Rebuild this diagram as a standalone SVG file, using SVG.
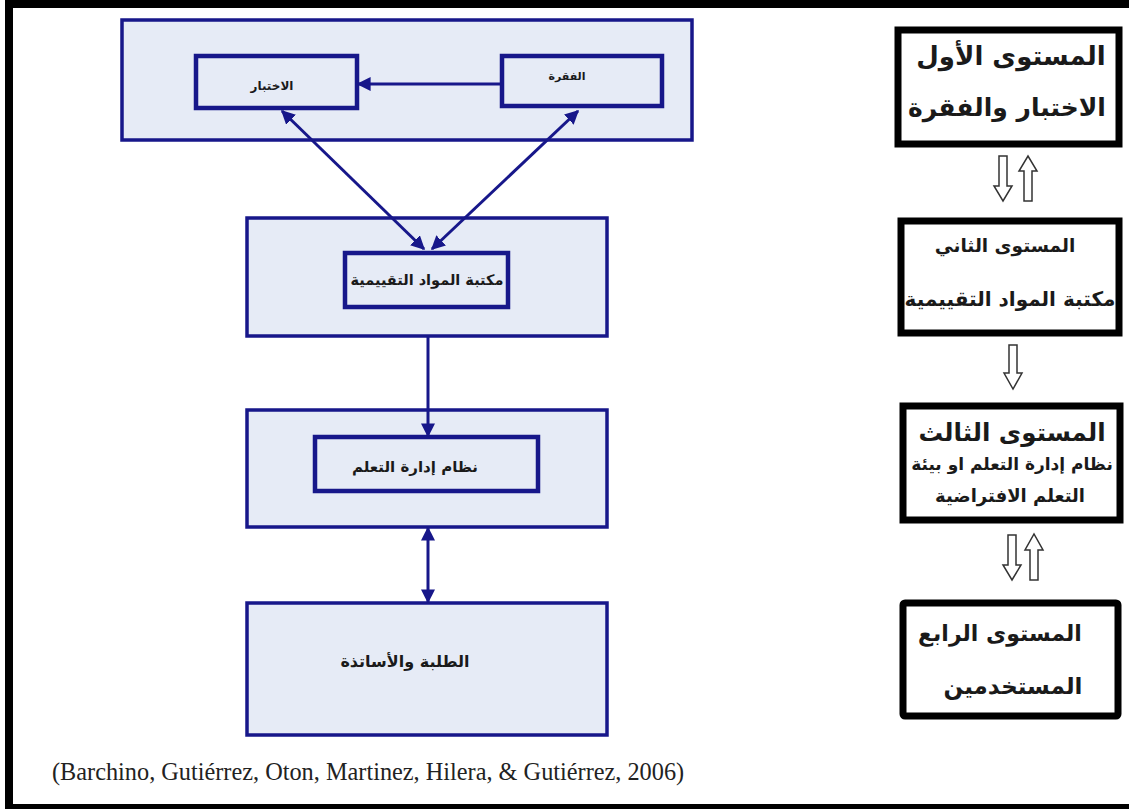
<svg xmlns="http://www.w3.org/2000/svg" width="1129" height="809" viewBox="0 0 1129 809">
<defs>
<style>
.outer{fill:#e6ebf6;stroke:#17178a;stroke-width:3.5}
.inner{fill:#e6ebf6;stroke:#17178a;stroke-width:4.5}
.lvl{fill:#fff;stroke:#000;stroke-width:7}
.conn{stroke:#17178a;stroke-width:3;fill:none}
.hol{fill:#fff;stroke:#333;stroke-width:1.5}
.ar{font-family:"DejaVu Sans","Noto Sans",sans-serif;font-weight:bold;fill:#1a1a1a;text-anchor:middle;direction:rtl}
.cite{font-family:"Liberation Serif",serif;font-size:24.3px;fill:#222}
</style>
<marker id="ah" viewBox="0 0 10 10" refX="9" refY="5" markerWidth="14" markerHeight="14" markerUnits="userSpaceOnUse" orient="auto-start-reverse">
<path d="M0,0 L10,5 L0,10 z" fill="#17178a"/>
</marker>
</defs>
<rect x="0" y="0" width="1129" height="809" fill="#fff"/>
<rect x="9" y="4" width="1130" height="804" fill="none" stroke="#000" stroke-width="8"/>

<g id="box-level1-diagram">
<rect class="outer" x="122" y="20" width="570" height="120"/>
</g>
<g id="node-ikhtibar">
<rect class="inner" x="196" y="56" width="161" height="52"/>
<text class="ar" x="272" y="90" font-size="12">الاختبار</text>
</g>
<g id="node-faqra">
<rect class="inner" x="502" y="56" width="160" height="50"/>
<text class="ar" x="567" y="80" font-size="11">الفقرة</text>
</g>
<g id="node-maktaba">
<rect class="outer" x="247" y="218" width="360" height="118"/>
<rect class="inner" x="345" y="253" width="163" height="54"/>
<text class="ar" x="427" y="285" font-size="14.5">مكتبة المواد التقييمية</text>
</g>
<g id="node-lms">
<rect class="outer" x="247" y="410" width="360" height="117"/>
<rect class="inner" x="315" y="437" width="223" height="54"/>
<text class="ar" x="415" y="472" font-size="15">نظام إدارة التعلم</text>
</g>
<g id="node-users">
<rect class="outer" x="247" y="603" width="360" height="132"/>
<text class="ar" x="405" y="667" font-size="16">الطلبة والأساتذة</text>
</g>

<g id="connectors">
<line class="conn" x1="502" y1="84" x2="358" y2="84" marker-end="url(#ah)"/>
<line class="conn" x1="282" y1="111" x2="424" y2="249" marker-start="url(#ah)" marker-end="url(#ah)"/>
<line class="conn" x1="578" y1="111" x2="432" y2="249" marker-start="url(#ah)" marker-end="url(#ah)"/>
<line class="conn" x1="428" y1="336" x2="428" y2="436" marker-end="url(#ah)"/>
<line class="conn" x1="428" y1="528" x2="428" y2="602" marker-start="url(#ah)" marker-end="url(#ah)"/>
<path class="hol" d="M999,156 h8 v30 h5 l-9,15 l-9,-15 h5 z"/>
<path class="hol" d="M1024,201 h8 v-30 h5 l-9,-15 l-9,15 h5 z"/>
<path class="hol" d="M1009,345 h8 v28 h5 l-9,16 l-9,-16 h5 z"/>
<path class="hol" d="M1008,535 h8 v30 h5 l-9,15 l-9,-15 h5 z"/>
<path class="hol" d="M1030,580 h8 v-30 h5 l-9,-16 l-9,16 h5 z"/>
</g>

<g id="level1">
<rect class="lvl" x="898" y="30" width="221" height="114"/>
<text class="ar" x="1011" y="65" font-size="26">المستوى الأول</text>
<text class="ar" x="1007" y="116" font-size="25">الاختبار والفقرة</text>
</g>
<g id="level2">
<rect class="lvl" x="901" y="221" width="218" height="112"/>
<text class="ar" x="1005" y="252" font-size="18.5">المستوى الثاني</text>
<text class="ar" x="1010" y="306" font-size="20">مكتبة المواد التقييمية</text>
</g>
<g id="level3">
<rect class="lvl" x="903" y="406" width="217" height="114"/>
<text class="ar" x="1012" y="441" font-size="24.5">المستوى الثالث</text>
<text class="ar" x="1012" y="470" font-size="17">نظام إدارة التعلم او بيئة</text>
<text class="ar" x="1010" y="502" font-size="18">التعلم الافتراضية</text>
</g>
<g id="level4">
<rect class="lvl" x="903" y="603" width="215" height="113" rx="2"/>
<text class="ar" x="1000" y="641" font-size="22">المستوى الرابع</text>
<text class="ar" x="1013" y="694" font-size="23">المستخدمين</text>
</g>

<text class="cite" x="52" y="780">(Barchino, Gutiérrez, Oton, Martinez, Hilera, &amp; Gutiérrez, 2006)</text>
</svg>
